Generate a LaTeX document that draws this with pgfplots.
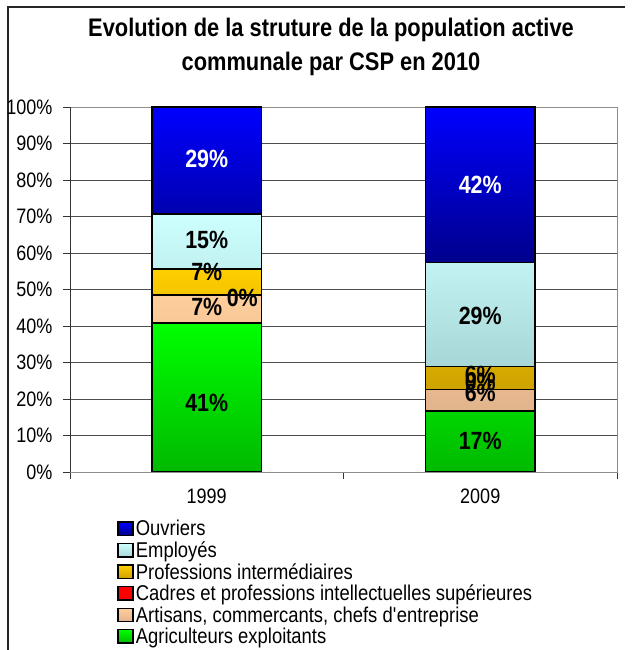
\documentclass[border=0pt]{standalone}
\usepackage{fontspec}
\setmainfont{Liberation Sans}[FakeStretch=0.86]
\usepackage{pgfplots}
\pgfplotsset{compat=1.18}

\definecolor{ouvT}{RGB}{0,0,255}
\definecolor{ouvB}{RGB}{0,0,140}
\definecolor{empT}{RGB}{206,255,255}
\definecolor{empB}{RGB}{168,214,214}
\definecolor{proT}{RGB}{255,206,0}
\definecolor{proB}{RGB}{206,162,0}
\definecolor{cadT}{RGB}{255,0,0}
\definecolor{artT}{RGB}{255,206,156}
\definecolor{artB}{RGB}{226,180,140}
\definecolor{agrT}{RGB}{0,255,0}
\definecolor{agrB}{RGB}{0,185,0}

\tikzset{lbl/.style={font=\bfseries\fontsize{25}{25}\selectfont}}

\begin{document}
\begin{tikzpicture}
\path[use as bounding box] (0,0) rectangle (634bp,650bp);
% cadre exterieur (coupe a droite et en bas)
\draw[line width=1.2bp, black!85] (8bp,0) -- (8bp,643bp) -- (625bp,643bp);
\node[align=center, font=\bfseries\fontsize{25.5}{34}\selectfont] at (331bp,603bp)
  {Evolution de la struture de la population active\\communale par CSP en 2010};

\begin{axis}[
  at={(70bp,178bp)}, anchor=south west,
  width=547bp, height=365bp, scale only axis,
  ybar stacked, bar width=0.4,
  xmin=-0.5, xmax=1.5, ymin=0, ymax=100,
  xtick={-0.5,0.5,1.5}, xticklabels={},
  extra x ticks={0,1}, extra x tick labels={1999,2009},
  extra x tick style={major tick length=0pt},
  ytick={0,10,...,100},
  yticklabel={\pgfmathprintnumber{\tick}\%},
  ymajorgrids,
  grid style={black!70, line width=0.8bp},
  tick align=outside, tick pos=left,
  major tick length=7bp,
  tick style={black!80, line width=0.8bp},
  axis line style={draw=black!45, line width=0.8bp},
  ticklabel style={font=\fontsize{21}{24}\selectfont},
  yticklabel style={xshift=-7bp},
  xticklabel style={yshift=-13bp},
  /pgf/number format/assume math mode=true,
  reverse legend,
  legend cell align=left,
  legend style={at={(0.081,-0.121)}, anchor=north west, draw=none, fill=none,
    font=\fontsize{21.5}{22}\selectfont, row sep=0.4bp,
    /tikz/every even column/.append style={column sep=9bp}},
  legend image code/.code={\draw[#1, draw=black, line width=1.4bp] (0bp,-6.5bp) rectangle (15bp,7bp);},
  after end axis/.code={
    \node[lbl] at (axis cs:0,18.8) {41\%};
    \node[lbl] at (axis cs:0,45.2) {7\%};
    \node[lbl] at (axis cs:0.13,47.7) {0\%};
    \node[lbl] at (axis cs:0,54.7) {7\%};
    \node[lbl] at (axis cs:0,63.6) {15\%};
    \node[lbl, text=white] at (axis cs:0,85.8) {29\%};
    \node[lbl] at (axis cs:1,8.5) {17\%};
    \node[lbl] at (axis cs:1,21.6) {6\%};
    \node[lbl] at (axis cs:1,24.7) {0\%};
    \node[lbl] at (axis cs:1,26.6) {6\%};
    \node[lbl] at (axis cs:1,42.7) {29\%};
    \node[lbl, text=white] at (axis cs:1,78.6) {42\%};
  },
]
\addplot[draw=black, line width=1.2bp, top color=agrT, bottom color=agrB] coordinates {(0,40.8) (1,16.7)};
\addlegendentry{Agriculteurs exploitants}
\addplot[draw=black, line width=1.2bp, top color=artT, bottom color=artB] coordinates {(0,7.7) (1,6.0)};
\addlegendentry{Artisans, commercants, chefs d\textquotesingle entreprise}
\addplot[draw=black, line width=1.2bp, fill=cadT] coordinates {(0,0) (1,0)};
\addlegendentry{Cadres et professions intellectuelles supérieures}
\addplot[draw=black, line width=1.2bp, top color=proT, bottom color=proB] coordinates {(0,7.1) (1,6.1)};
\addlegendentry{Professions intermédiaires}
\addplot[draw=black, line width=1.2bp, top color=empT, bottom color=empB] coordinates {(0,15.1) (1,28.7)};
\addlegendentry{Employés}
\addplot[draw=black, line width=1.2bp, top color=ouvT, bottom color=ouvB] coordinates {(0,29.3) (1,42.5)};
\addlegendentry{Ouvriers}

\draw[black!80, line width=0.8bp] ([yshift=-6bp]rel axis cs:0,0) -- (rel axis cs:0,1);
\draw[black!80, line width=0.8bp] (rel axis cs:0,0) -- (rel axis cs:1,0);
\end{axis}
\end{tikzpicture}
\end{document}
